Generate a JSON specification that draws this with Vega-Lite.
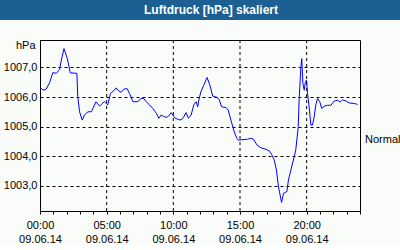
{
  "$schema": "https://vega.github.io/schema/vega-lite/v6.json",
  "background": "#fafcfa",
  "padding": 0,
  "spacing": 20,
  "bounds": "flush",
  "config": {
    "view": {"stroke": "black"},
    "axis": {"labelFontSize": 11, "labelColor": "black", "titleFontSize": 11, "titleColor": "black", "titleFontWeight": "normal", "domainColor": "black", "tickColor": "black"}
  },
  "vconcat": [
    {
      "width": 400, "height": 20,
      "view": {"fill": "#1c5f93", "stroke": null},
      "data": {"values": [{"label": "Luftdruck [hPa] skaliert"}]},
      "mark": {"type": "text", "color": "white", "fontSize": 12, "fontWeight": "bold", "dx": 11},
      "encoding": {"text": {"field": "label"}}
    },
    {
      "spacing": 0,
      "bounds": "flush",
      "hconcat": [
        {"width": 40, "height": 171, "view": {"stroke": null}, "data": {"values": [{"a": 1}]}, "mark": {"type": "point", "opacity": 0}},
        {
          "width": 320, "height": 171,
          "layer": [
            {
              "data": {"values": [
                {"g": "2014-06-09T05:00"},
                {"g": "2014-06-09T10:00"},
                {"g": "2014-06-09T15:00"},
                {"g": "2014-06-09T20:00"}
              ]},
              "mark": {"type": "rule", "color": "black", "strokeDash": [3, 3]},
              "encoding": {"x": {"field": "g", "type": "temporal"}}
            },
            {
              "data": {"values": [
                {"t": "2014-06-09T00:03", "p": 1006.29},
                {"t": "2014-06-09T00:18", "p": 1006.23},
                {"t": "2014-06-09T00:28", "p": 1006.27},
                {"t": "2014-06-09T00:43", "p": 1006.48},
                {"t": "2014-06-09T00:58", "p": 1006.83},
                {"t": "2014-06-09T01:13", "p": 1006.80},
                {"t": "2014-06-09T01:28", "p": 1006.93},
                {"t": "2014-06-09T01:36", "p": 1007.25},
                {"t": "2014-06-09T01:48", "p": 1007.64},
                {"t": "2014-06-09T02:03", "p": 1007.30},
                {"t": "2014-06-09T02:16", "p": 1006.82},
                {"t": "2014-06-09T02:46", "p": 1006.80},
                {"t": "2014-06-09T02:50", "p": 1006.01},
                {"t": "2014-06-09T02:58", "p": 1005.50},
                {"t": "2014-06-09T03:10", "p": 1005.22},
                {"t": "2014-06-09T03:20", "p": 1005.39},
                {"t": "2014-06-09T03:36", "p": 1005.50},
                {"t": "2014-06-09T03:51", "p": 1005.50},
                {"t": "2014-06-09T03:58", "p": 1005.61},
                {"t": "2014-06-09T04:12", "p": 1005.84},
                {"t": "2014-06-09T04:28", "p": 1005.69},
                {"t": "2014-06-09T04:40", "p": 1005.78},
                {"t": "2014-06-09T04:50", "p": 1005.84},
                {"t": "2014-06-09T05:05", "p": 1005.73},
                {"t": "2014-06-09T05:17", "p": 1006.12},
                {"t": "2014-06-09T05:28", "p": 1006.18},
                {"t": "2014-06-09T05:43", "p": 1006.31},
                {"t": "2014-06-09T05:50", "p": 1006.23},
                {"t": "2014-06-09T06:05", "p": 1006.16},
                {"t": "2014-06-09T06:17", "p": 1006.26},
                {"t": "2014-06-09T06:31", "p": 1006.29},
                {"t": "2014-06-09T06:43", "p": 1006.12},
                {"t": "2014-06-09T06:58", "p": 1005.84},
                {"t": "2014-06-09T07:20", "p": 1005.84},
                {"t": "2014-06-09T07:35", "p": 1005.95},
                {"t": "2014-06-09T07:47", "p": 1005.95},
                {"t": "2014-06-09T07:58", "p": 1005.84},
                {"t": "2014-06-09T08:13", "p": 1005.73},
                {"t": "2014-06-09T08:28", "p": 1005.61},
                {"t": "2014-06-09T08:43", "p": 1005.45},
                {"t": "2014-06-09T08:55", "p": 1005.28},
                {"t": "2014-06-09T09:05", "p": 1005.39},
                {"t": "2014-06-09T09:20", "p": 1005.33},
                {"t": "2014-06-09T09:32", "p": 1005.31},
                {"t": "2014-06-09T09:42", "p": 1005.39},
                {"t": "2014-06-09T09:50", "p": 1005.47},
                {"t": "2014-06-09T09:58", "p": 1005.39},
                {"t": "2014-06-09T10:08", "p": 1005.28},
                {"t": "2014-06-09T10:23", "p": 1005.24},
                {"t": "2014-06-09T10:35", "p": 1005.22},
                {"t": "2014-06-09T10:47", "p": 1005.33},
                {"t": "2014-06-09T10:57", "p": 1005.47},
                {"t": "2014-06-09T11:08", "p": 1005.28},
                {"t": "2014-06-09T11:20", "p": 1005.39},
                {"t": "2014-06-09T11:32", "p": 1005.73},
                {"t": "2014-06-09T11:42", "p": 1005.84},
                {"t": "2014-06-09T11:50", "p": 1005.67},
                {"t": "2014-06-09T11:54", "p": 1005.87},
                {"t": "2014-06-09T12:04", "p": 1006.18},
                {"t": "2014-06-09T12:17", "p": 1006.40},
                {"t": "2014-06-09T12:32", "p": 1006.66},
                {"t": "2014-06-09T12:47", "p": 1006.34},
                {"t": "2014-06-09T12:57", "p": 1006.03},
                {"t": "2014-06-09T13:16", "p": 1005.99},
                {"t": "2014-06-09T13:27", "p": 1005.90},
                {"t": "2014-06-09T13:37", "p": 1005.67},
                {"t": "2014-06-09T13:57", "p": 1005.64},
                {"t": "2014-06-09T14:07", "p": 1005.56},
                {"t": "2014-06-09T14:19", "p": 1005.22},
                {"t": "2014-06-09T14:34", "p": 1004.82},
                {"t": "2014-06-09T14:46", "p": 1004.60},
                {"t": "2014-06-09T14:52", "p": 1004.54},
                {"t": "2014-06-09T15:34", "p": 1004.57},
                {"t": "2014-06-09T15:49", "p": 1004.60},
                {"t": "2014-06-09T16:01", "p": 1004.57},
                {"t": "2014-06-09T16:16", "p": 1004.38},
                {"t": "2014-06-09T16:34", "p": 1004.28},
                {"t": "2014-06-09T16:56", "p": 1004.23},
                {"t": "2014-06-09T17:11", "p": 1004.18},
                {"t": "2014-06-09T17:22", "p": 1004.06},
                {"t": "2014-06-09T17:34", "p": 1003.87},
                {"t": "2014-06-09T17:44", "p": 1003.53},
                {"t": "2014-06-09T17:52", "p": 1003.02},
                {"t": "2014-06-09T17:56", "p": 1002.85},
                {"t": "2014-06-09T18:07", "p": 1002.43},
                {"t": "2014-06-09T18:16", "p": 1002.74},
                {"t": "2014-06-09T18:31", "p": 1002.80},
                {"t": "2014-06-09T18:38", "p": 1003.19},
                {"t": "2014-06-09T18:49", "p": 1003.53},
                {"t": "2014-06-09T19:04", "p": 1003.98},
                {"t": "2014-06-09T19:11", "p": 1004.21},
                {"t": "2014-06-09T19:22", "p": 1004.99},
                {"t": "2014-06-09T19:26", "p": 1005.90},
                {"t": "2014-06-09T19:34", "p": 1007.02},
                {"t": "2014-06-09T19:38", "p": 1007.30},
                {"t": "2014-06-09T19:43", "p": 1006.46},
                {"t": "2014-06-09T19:49", "p": 1006.23},
                {"t": "2014-06-09T19:53", "p": 1006.46},
                {"t": "2014-06-09T19:59", "p": 1006.57},
                {"t": "2014-06-09T20:04", "p": 1006.12},
                {"t": "2014-06-09T20:11", "p": 1005.67},
                {"t": "2014-06-09T20:19", "p": 1005.05},
                {"t": "2014-06-09T20:26", "p": 1005.05},
                {"t": "2014-06-09T20:34", "p": 1005.33},
                {"t": "2014-06-09T20:41", "p": 1005.73},
                {"t": "2014-06-09T20:49", "p": 1005.95},
                {"t": "2014-06-09T20:59", "p": 1005.84},
                {"t": "2014-06-09T21:08", "p": 1005.61},
                {"t": "2014-06-09T21:19", "p": 1005.69},
                {"t": "2014-06-09T21:34", "p": 1005.72},
                {"t": "2014-06-09T21:49", "p": 1005.72},
                {"t": "2014-06-09T22:04", "p": 1005.86},
                {"t": "2014-06-09T22:19", "p": 1005.89},
                {"t": "2014-06-09T22:31", "p": 1005.83},
                {"t": "2014-06-09T22:41", "p": 1005.90},
                {"t": "2014-06-09T22:56", "p": 1005.87},
                {"t": "2014-06-09T23:11", "p": 1005.80},
                {"t": "2014-06-09T23:34", "p": 1005.78},
                {"t": "2014-06-09T23:49", "p": 1005.75}
              ]},
              "mark": {"type": "line", "color": "#0000ff", "strokeWidth": 1},
              "encoding": {
                "x": {
                  "field": "t", "type": "temporal",
                  "scale": {"domain": [{"year": 2014, "month": 6, "date": 9, "hours": 0}, {"year": 2014, "month": 6, "date": 10, "hours": 0}], "nice": false},
                  "axis": {
                    "title": null,
                    "tickCount": 24,
                    "tickSize": 3,
                    "grid": false,
                    "labelExpr": "hours(datum.value) % 5 === 0 && date(datum.value) === 9 ? [timeFormat(datum.value, '%H:%M'), timeFormat(datum.value, '%d.%m.%y')] : ''",
                    "labelLineHeight": 14,
                    "labelOverlap": false,
                    "labelFlush": false,
                    "labelPadding": 5
                  }
                },
                "y": {
                  "field": "p", "type": "quantitative",
                  "scale": {"domain": [1002.14, 1007.93], "nice": false, "zero": false},
                  "axis": {
                    "title": "hPa",
                    "titleAngle": 0,
                    "titleAlign": "right",
                    "titleX": -5,
                    "titleY": 10,
                    "values": [1003, 1004, 1005, 1006, 1007],
                    "ticks": false,
                    "labelPadding": 3,
                    "labelExpr": "replace(format(datum.value, '.1f'), '.', ',')",
                    "grid": true,
                    "gridColor": "black",
                    "gridDash": [3, 3]
                  }
                }
              }
            },
            {
              "data": {"values": [{"label": "Normal", "p": 1004.55}]},
              "mark": {"type": "text", "align": "left", "dx": 5, "fontSize": 11, "color": "black"},
              "encoding": {
                "x": {"datum": {"year": 2014, "month": 6, "date": 10, "hours": 0}, "type": "temporal"},
                "y": {"field": "p", "type": "quantitative"},
                "text": {"field": "label"}
              }
            }
          ]
        }
      ]
    }
  ]
}
